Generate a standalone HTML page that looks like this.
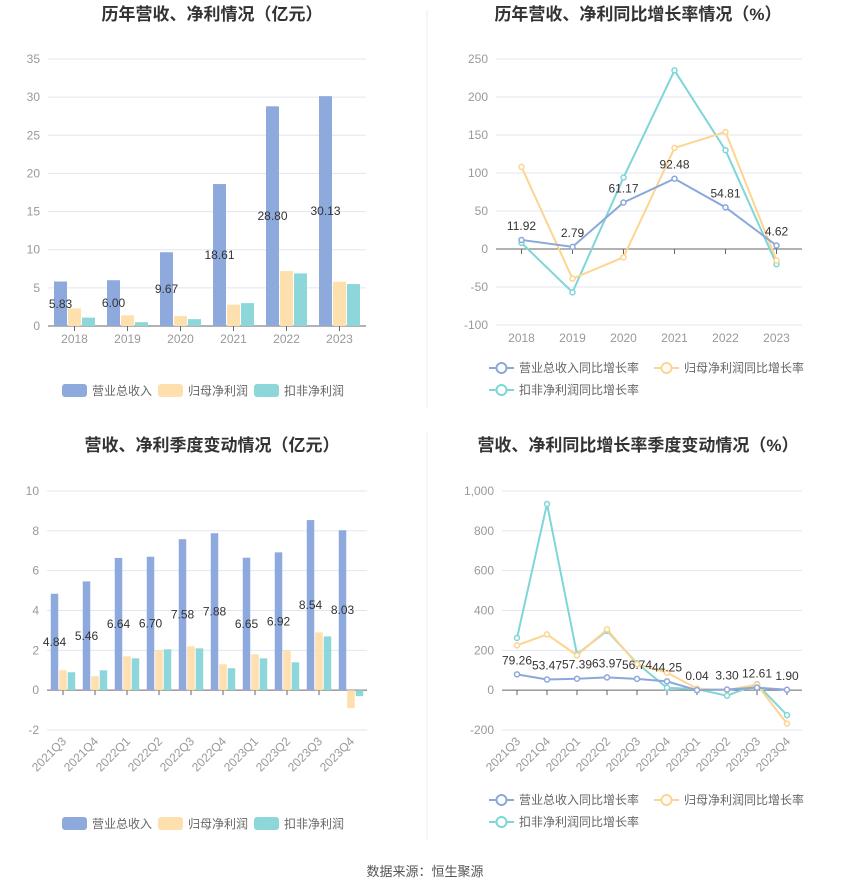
<!DOCTYPE html>
<html><head><meta charset="utf-8">
<style>
body{margin:0;background:#fff;font-family:"Liberation Sans","Noto Sans CJK SC",sans-serif;}
svg text{font-family:"Liberation Sans","Noto Sans CJK SC",sans-serif;}
</style></head>
<body>
<svg id="s" width="850" height="891" xmlns="http://www.w3.org/2000/svg">
<line x1="427" y1="10" x2="427" y2="408" stroke="#eee"/>
<line x1="427" y1="432" x2="427" y2="840" stroke="#eee"/>
<text x="212" y="20" text-anchor="middle" font-size="17" font-weight="bold" fill="#333">历年营收、净利情况（亿元）</text>
<text x="638" y="20" text-anchor="middle" font-size="17" font-weight="bold" fill="#333">历年营收、净利同比增长率情况（%）</text>
<text x="212" y="451" text-anchor="middle" font-size="17" font-weight="bold" fill="#333">营收、净利季度变动情况（亿元）</text>
<text x="638" y="451" text-anchor="middle" font-size="17" font-weight="bold" fill="#333">营收、净利同比增长率季度变动情况（%）</text>
<text x="425" y="876" text-anchor="middle" font-size="13" fill="#555">数据来源：恒生聚源</text>
</svg>
<script>
const years=["2018","2019","2020","2021","2022","2023"];
const revY=[5.83,6.00,9.67,18.61,28.80,30.13];
const netY=[2.3,1.4,1.3,2.8,7.2,5.8];
const dedY=[1.1,0.5,0.9,3.0,6.9,5.5];
const yTicks1=[0,5,10,15,20,25,30,35];
const revGY=[11.92,2.79,61.17,92.48,54.81,4.62];
const netGY=[108,-39,-11,133,154,-15];
const dedGY=[8,-57,94,235,130,-20];
const yTicks2=[-100,-50,0,50,100,150,200,250];
const quarters=["2021Q3","2021Q4","2022Q1","2022Q2","2022Q3","2022Q4","2023Q1","2023Q2","2023Q3","2023Q4"];
const revQ=[4.84,5.46,6.64,6.70,7.58,7.88,6.65,6.92,8.54,8.03];
const netQ=[1.0,0.7,1.7,2.0,2.2,1.3,1.8,2.0,2.9,-0.9];
const dedQ=[0.9,1.0,1.6,2.05,2.1,1.1,1.6,1.4,2.7,-0.3];
const yTicks3=[-2,0,2,4,6,8,10];
const revGQ=[79.26,53.47,57.39,63.97,56.74,44.25,0.04,3.30,12.61,1.90];
const netGQ=[225,280,175,305,130,88,8,0,28,-168];
const dedGQ=[262,935,180,298,135,12,5,-28,30,-125];
const yTicks4=[-200,0,200,400,600,800,1000];
const C=["#8eaadc","#fedfae","#8dd7da"];
const LC=["#8ba8dc","#fed48f","#7fd6d8"];
const svg=document.getElementById('s');const NS="http://www.w3.org/2000/svg";
function mk(t,a,txt){const e=document.createElementNS(NS,t);for(const k in a)e.setAttribute(k,a[k]);if(txt!=null)e.textContent=txt;svg.appendChild(e);return e;}
function axes(p,ticks,cats,rot,pre){
  const sy=v=>p.y0+(v-p.v0)/(p.v1-p.v0)*(p.y1-p.y0);
  ticks.forEach(t=>{const y=sy(t);
    const g=mk('line',{x1:p.x0,x2:p.x1,y1:y,y2:y,stroke:t===0?'#666':'#e0e6f1'});
    
    const l=mk('text',{x:p.x0-8,y:y+4,'text-anchor':'end','font-size':12,fill:'#999'},t>=1000?t.toLocaleString('en-US'):t);
    });
  const bw=(p.x1-p.x0)/cats.length;
  const sx=i=>p.x0+bw*(i+0.5);
  cats.forEach((c,i)=>{const x=sx(i);const y=sy(0);
    const tk=mk('line',{x1:x,x2:x,y1:y,y2:y+5,stroke:'#666'});
    
    let l;
    if(rot){const ly=sy(p.v0)+12;l=mk('text',{x:x+4,y:ly,'text-anchor':'end','font-size':12,fill:'#999',transform:`rotate(-45 ${x+4} ${ly})`},c);}
    else l=mk('text',{x:x,y:sy(p.v0)+17,'text-anchor':'middle','font-size':12,fill:'#999'},c);
    });
  return {sx,sy,bw};
}
function bars(p,ticks,cats,series,rot,bwid,gap,pre){
  const a=axes(p,ticks,cats,rot,pre);
  const step=bwid+gap;
  series.forEach((s,k)=>s.forEach((v,i)=>{
    const x=a.sx(i)+(k-1)*step-bwid/2;const y0=a.sy(0),y1=a.sy(v);
    const r=mk('rect',{x:x,y:Math.min(y0,y1),width:bwid,height:Math.abs(y1-y0),fill:C[k]});
    
    }));
  series[0].forEach((v,i)=>{const t=mk('text',{x:a.sx(i)-step,y:a.sy(v/2)+4,'text-anchor':'middle','font-size':12,fill:'#333'},v.toFixed(2));
    });
}
function lines(p,ticks,cats,series,rot,pre){
  const a=axes(p,ticks,cats,rot,pre);
  [2,1,0].forEach(k=>{const s=series[k];
    const pl=mk('polyline',{points:s.map((v,i)=>a.sx(i)+','+a.sy(v)).join(' '),fill:'none',stroke:LC[k],'stroke-width':2});
    
    s.forEach((v,i)=>{const c=mk('circle',{cx:a.sx(i),cy:a.sy(v),r:2.5,fill:'#fff',stroke:LC[k],'stroke-width':1.5});
      });});
  series[0].forEach((v,i)=>{const t=mk('text',{x:a.sx(i),y:a.sy(v)-10,'text-anchor':'middle','font-size':12,fill:'#333'},v.toFixed(2));
    });
}
function barLegend(cx,y,pre){const names=["营业总收入","归母净利润","扣非净利润"];const xs=[cx-150,cx-54,cx+42];
  names.forEach((n,k)=>{const r=mk('rect',{x:xs[k],y:y-6,width:25,height:13,rx:3,fill:C[k]});
    
    const t=mk('text',{x:xs[k]+30,y:y+5,'font-size':12,fill:'#666'},n);
    });}
function lineLegend(x,y,pre){const names=["营业总收入同比增长率","归母净利润同比增长率","扣非净利润同比增长率"];const pos=[[x,y],[x+165,y],[x,y+22]];
  names.forEach((n,k)=>{const [px,py]=pos[k];
    const l=mk('line',{x1:px,x2:px+25,y1:py,y2:py,stroke:LC[k],'stroke-width':2});
    
    const c=mk('circle',{cx:px+12.5,cy:py,r:5,fill:'#fff',stroke:LC[k],'stroke-width':2});
    
    const t=mk('text',{x:px+30,y:py+4,'font-size':12,fill:'#666'},n);
    });}
bars({x0:48,x1:366,y0:326,y1:59,v0:0,v1:35},yTicks1,years,[revY,netY,dedY],false,13,1,'c1');
barLegend(212,390,'c1');
lines({x0:496,x1:802,y0:325,y1:59,v0:-100,v1:250},yTicks2,years,[revGY,netGY,dedGY],false,'c2');
lineLegend(489,368,'c2');
bars({x0:47,x1:367,y0:730,y1:491,v0:-2,v1:10},yTicks3,quarters,[revQ,netQ,dedQ],true,7.5,1,'c3');
barLegend(212,823,'c3');
lines({x0:502,x1:802,y0:730,y1:491,v0:-200,v1:1000},yTicks4,quarters,[revGQ,netGQ,dedGQ],true,'c4');
lineLegend(489,800,'c4');
</script>
</body></html>
